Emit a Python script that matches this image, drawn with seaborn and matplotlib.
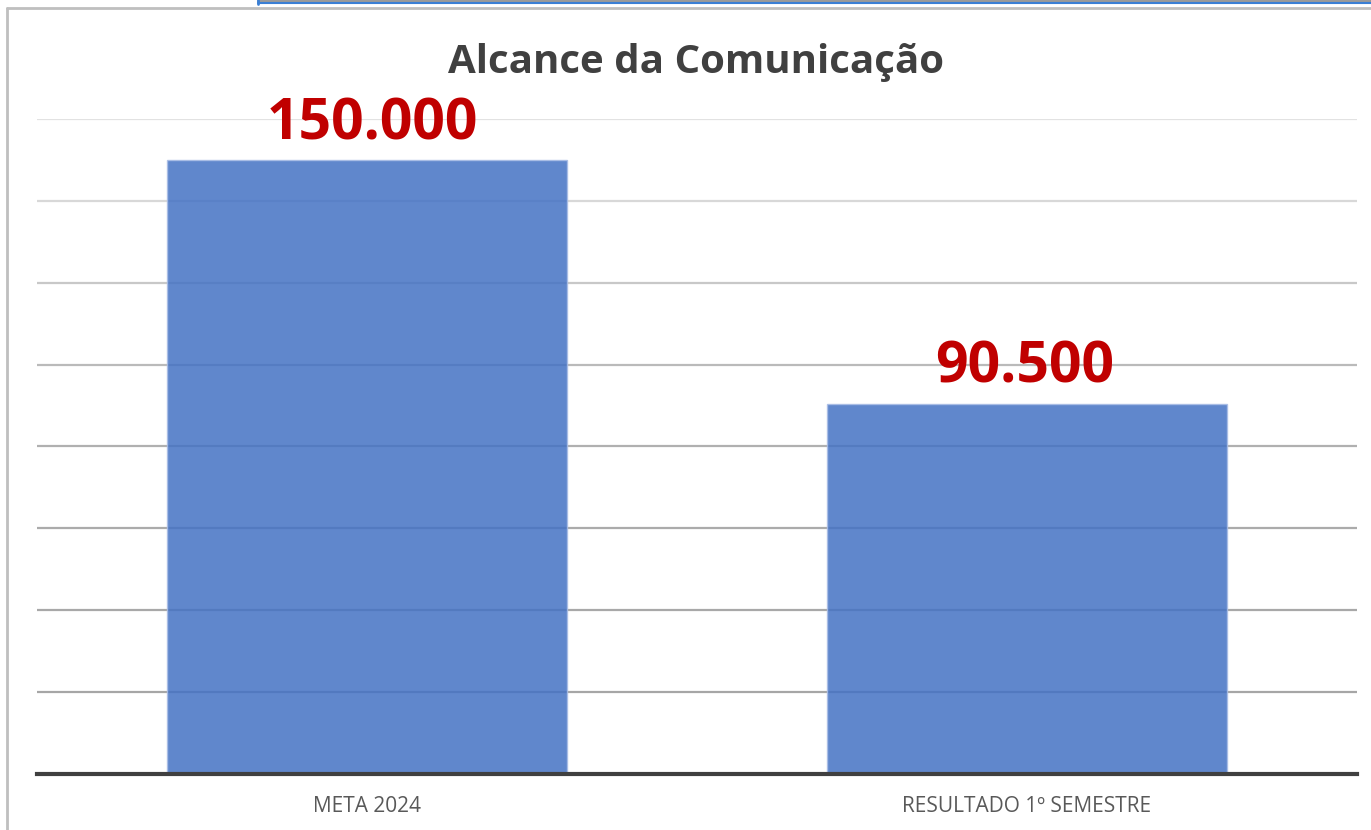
import matplotlib
matplotlib.use("Agg")
import matplotlib.pyplot as plt
import seaborn as sns
import pandas as pd
from matplotlib.lines import Line2D

categories = ["META 2024", "RESULTADO 1º SEMESTRE"]
values = [150000, 90500]
title = "Alcance da Comunicação"
grid_ticks = [20000, 40000, 60000, 80000, 100000, 120000, 140000, 160000]

sns.set_theme(style="white")
plt.rcParams['font.family'] = ['Open Sans', 'DejaVu Sans']

df = pd.DataFrame({"cat": categories, "val": values})

fig = plt.figure(figsize=(13.71, 8.30), dpi=100)
ax = fig.add_axes([37/1371, (830-774)/830, (1357-37)/1371, (774-119)/830])

grid_colors = ["#A6A6A6", "#A8A8A8", "#ABABAB", "#B0B0B0", "#BABABA", "#C8C8C8", "#D8D8D8", "#E2E2E2"]
for t, c in zip(grid_ticks, grid_colors):
    ax.axhline(t, color=c, lw=1.6, zorder=0)

sns.barplot(data=df, x="cat", y="val", color="#4472C4", width=0.605, ax=ax,
            saturation=1, alpha=0.85, edgecolor="#A9BDE6", linewidth=1.0, zorder=2)

ax.set_ylim(0, 160000)
ax.set_xlim(-0.5, 1.5)
ax.set_yticks([])
ax.set_xlabel("")
ax.set_ylabel("")
for s in ["top", "right", "left"]:
    ax.spines[s].set_visible(False)
ax.spines["bottom"].set_color("#404040")
ax.spines["bottom"].set_linewidth(3)
ax.spines["bottom"].set_zorder(5)
ax.tick_params(axis="x", length=0, pad=16, labelsize=15, labelcolor="#595959")

for i, v in enumerate(values):
    ax.annotate(f"{v:,}".replace(",", "."), (i, v), xytext=(4 if i == 0 else -2, 15),
                textcoords="offset points", ha="center", va="baseline",
                fontsize=41, fontweight="bold", color="#C00000")

fig.text(696/1371, 1 - 73/830, title, ha="center", va="baseline",
         fontsize=29, fontweight="bold", color="#404040")

# frame decorations
fig.add_artist(Line2D([7/1371, 7/1371], [0, 1 - 8/830], color="#BFBFBF", lw=2, transform=fig.transFigure))
fig.add_artist(Line2D([7/1371, 1], [1 - 8/830, 1 - 8/830], color="#BFBFBF", lw=2, transform=fig.transFigure))
fig.add_artist(Line2D([258/1371, 1], [1 - 1.5/830, 1 - 1.5/830], color="#9A9A9A", lw=1.5, transform=fig.transFigure))
fig.add_artist(Line2D([258/1371, 1], [1 - 3/830, 1 - 3/830], color="#3A7FD5", lw=1.5, transform=fig.transFigure))
fig.add_artist(Line2D([258/1371, 258/1371], [1 - 4/830, 1], color="#3A7FD5", lw=2, transform=fig.transFigure))

fig.savefig("out.png", dpi=100)
